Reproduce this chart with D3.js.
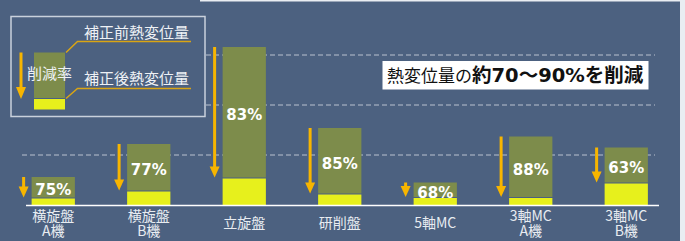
<!DOCTYPE html>
<html>
<head>
<meta charset="utf-8">
<script src="https://cdn.jsdelivr.net/npm/d3@7"></script>
<style>
  body { margin: 0; background: #fff; }
  svg { display: block; }
</style>
</head>
<body>
<div class="chart"></div>
<script>
var w = 685;
var h = 241;

// data (px-ish units above baseline)
const machines = [["横旋盤", "A機"], ["横旋盤", "B機"], ["立旋盤"], ["研削盤"], ["5軸MC"], ["3軸MC", "A機"], ["3軸MC", "B機"]];
const beforeComp = [28, 61, 158, 77, 22.5, 68.5, 57.5];
const afterComp = [6.5, 13.5, 26.5, 10.5, 7, 7, 21.5];
const reduction = ["75%", "77%", "83%", "85%", "68%", "88%", "63%"];
const gridVals = [50, 100, 150];

const bg = "#4c6180";
const olive = "#7d8c4b";
const yellow = "#e7f01c";
const gold = "#f7b500";

var svg = d3.select(".chart").append("svg")
    .attr("width", w)
    .attr("height", h);

svg.append("rect").attr("width", w).attr("height", h).attr("fill", bg);
// light edge right / top
svg.append("rect").attr("x", 680).attr("width", 5).attr("height", h).attr("fill", "#e9edf2");
svg.append("rect").attr("x", 200).attr("width", 480).attr("height", 1.5).attr("fill", "#e9edf2");

var keys = d3.range(machines.length);

const x = d3.scaleBand()
    .domain(keys)
    .range([5.5, 674])
    .paddingInner(0.547)
    .paddingOuter(0.2735);

const y = d3.scaleLinear()
    .domain([0, 150])
    .range([205, 55]);

// dashed grid
svg.selectAll(".grid")
    .data(gridVals)
    .enter().append("line")
    .attr("class", "grid")
    .attr("x1", 22).attr("x2", 655)
    .attr("y1", d => y(d)).attr("y2", d => y(d))
    .attr("stroke", "#b9c2cf")
    .attr("stroke-width", 1)
    .attr("stroke-dasharray", "5,3");

// legend (drawn over grid)
var lg = svg.append("g");
lg.append("rect")
    .attr("x", 11).attr("y", 16.5).attr("width", 194).attr("height", 100)
    .attr("fill", bg).attr("stroke", "#c9d1dc").attr("stroke-width", 1.5);
lg.append("rect").attr("x", 34).attr("y", 52.5).attr("width", 31).attr("height", 45.5).attr("fill", olive);
lg.append("rect").attr("x", 34).attr("y", 99).attr("width", 31).attr("height", 10.5).attr("fill", yellow);
lg.append("path").attr("d", "M66,52.5 L77.5,41.5 L191,41.5").attr("fill", "none").attr("stroke", "#d9a514").attr("stroke-width", 1.5);
lg.append("path").attr("d", "M66,98.5 L77.5,88.5 L191,88.5").attr("fill", "none").attr("stroke", "#d9a514").attr("stroke-width", 1.5);
lg.append("line").attr("x1", 21).attr("x2", 21).attr("y1", 52.5).attr("y2", 89).attr("stroke", gold).attr("stroke-width", 3);
lg.append("path").attr("d", "M16,87 L26,87 L21,99 Z").attr("fill", gold);
lg.append("text").attr("x", 49.5).attr("y", 78.5).attr("text-anchor", "middle")
    .style("font", "15px 'Noto Sans CJK JP'").attr("fill", "#eef1f5").text("削減率");
lg.append("text").attr("x", 84).attr("y", 37.5)
    .style("font", "15px 'Noto Sans CJK JP'").attr("fill", "#eef1f5").text("補正前熱変位量");
lg.append("text").attr("x", 84).attr("y", 84)
    .style("font", "15px 'Noto Sans CJK JP'").attr("fill", "#eef1f5").text("補正後熱変位量");

// bars
svg.selectAll(".before")
    .data(keys)
    .enter().append("rect")
    .attr("class", "before")
    .attr("x", i => x(i))
    .attr("width", x.bandwidth())
    .attr("y", i => y(beforeComp[i]))
    .attr("height", i => y(afterComp[i]) - y(beforeComp[i]) - 1)
    .attr("fill", olive);

svg.selectAll(".after")
    .data(keys)
    .enter().append("rect")
    .attr("class", "after")
    .attr("x", i => x(i))
    .attr("width", x.bandwidth())
    .attr("y", i => y(afterComp[i]))
    .attr("height", i => y(0) - y(afterComp[i]))
    .attr("fill", yellow);

// arrows
var arr = svg.selectAll(".arrow")
    .data(keys)
    .enter().append("g")
    .attr("class", "arrow")
    .attr("transform", i => "translate(" + (x(i) - 8) + ",0)");
arr.append("line")
    .attr("x1", 0).attr("x2", 0)
    .attr("y1", i => y(beforeComp[i]))
    .attr("y2", i => Math.max(y(beforeComp[i]), y(afterComp[i]) - 10))
    .attr("stroke", gold).attr("stroke-width", 3);
arr.append("path")
    .attr("d", i => {
        var t = y(afterComp[i]) - 1;
        return "M-5," + (t - 11) + " L5," + (t - 11) + " L0," + t + " Z";
    })
    .attr("fill", gold);

// percent labels
svg.selectAll(".pct")
    .data(keys)
    .enter().append("text")
    .attr("class", "pct")
    .attr("x", i => x(i) + x.bandwidth() / 2)
    .attr("y", i => (y(beforeComp[i]) + y(afterComp[i])) / 2 + 2)
    .attr("dy", "0.35em")
    .attr("text-anchor", "middle")
    .style("font", "bold 15px 'DejaVu Sans'")
    .attr("fill", "#fff")
    .text(i => reduction[i]);

// baseline
svg.append("line")
    .attr("x1", 26).attr("x2", 659)
    .attr("y1", y(0) + 0.5).attr("y2", y(0) + 0.5)
    .attr("stroke", "#fff").attr("stroke-width", 1.5);

// category labels
var cat = svg.selectAll(".cat")
    .data(keys)
    .enter().append("text")
    .attr("class", "cat")
    .attr("text-anchor", "middle")
    .style("font", "14px 'Noto Sans CJK JP'")
    .attr("fill", "#e8ecf1");
cat.selectAll("tspan")
    .data(i => machines[i].map((s, j) => ({s: s, j: j, n: machines[i].length, i: i})))
    .enter().append("tspan")
    .attr("x", d => x(d.i) + x.bandwidth() / 2)
    .attr("y", d => d.n === 1 ? 227.5 : 221 + d.j * 14.5)
    .text(d => d.s);

// callout box
svg.append("rect")
    .attr("x", 382.5).attr("y", 61).attr("width", 266).attr("height", 28.5)
    .attr("fill", "#fff");
var callout = svg.append("text")
    .attr("x", 387).attr("y", 82)
    .attr("fill", "#111");
callout.append("tspan").style("font", "17px 'Noto Sans CJK JP'").text("熱変位量の");
callout.append("tspan").style("font", "bold 19.5px 'DejaVu Sans', 'Noto Sans CJK JP'").text("約70～90%を削減");
</script>
</body>
</html>
